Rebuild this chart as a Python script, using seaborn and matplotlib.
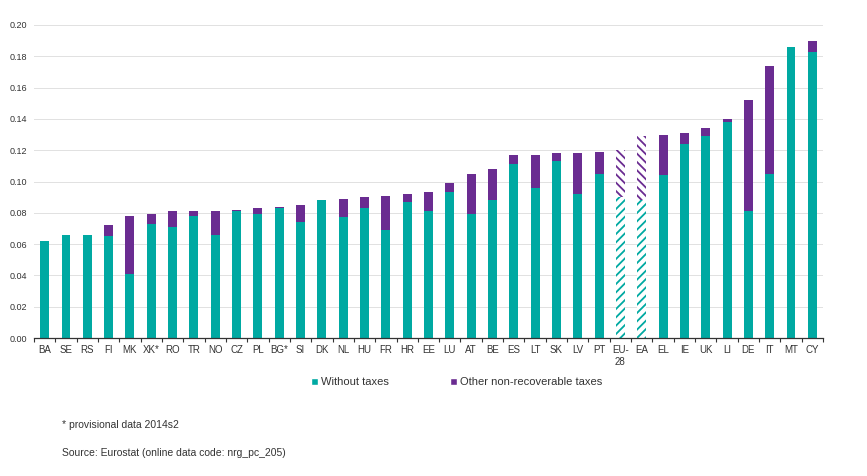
import pandas as pd
import matplotlib.pyplot as plt
import seaborn as sns
from matplotlib.patches import Patch
from matplotlib.ticker import FixedLocator

countries = ['BA', 'SE', 'RS', 'FI', 'MK', 'XK*', 'RO', 'TR', 'NO', 'CZ', 'PL', 'BG*', 'SI',
             'DK', 'NL', 'HU', 'FR', 'HR', 'EE', 'LU', 'AT', 'BE', 'ES', 'LT', 'SK', 'LV', 'PT',
             'EU-28', 'EA', 'EL', 'IE', 'UK', 'LI', 'DE', 'IT', 'MT', 'CY']
tick_labels = [c if c != 'EU-28' else 'EU-\n28' for c in countries]

# price without taxes and total incl. other non-recoverable taxes (EUR/kWh)
without_taxes = [0.062, 0.066, 0.066, 0.065, 0.041, 0.073, 0.071, 0.078, 0.066, 0.081, 0.079, 0.083, 0.074,
                 0.088, 0.077, 0.083, 0.069, 0.087, 0.081, 0.093, 0.079, 0.088, 0.111, 0.096, 0.113, 0.092, 0.105,
                 0.090, 0.088, 0.104, 0.124, 0.129, 0.138, 0.081, 0.105, 0.186, 0.183]
total = [0.062, 0.066, 0.066, 0.072, 0.078, 0.079, 0.081, 0.081, 0.081, 0.082, 0.083, 0.084, 0.085,
         0.088, 0.089, 0.090, 0.091, 0.092, 0.093, 0.099, 0.105, 0.108, 0.117, 0.117, 0.118, 0.118, 0.119,
         0.120, 0.129, 0.130, 0.131, 0.134, 0.140, 0.152, 0.174, 0.186, 0.190]
hatched = ['EU-28', 'EA']

teal = '#00a9a2'
purple = '#6a2c91'

df = pd.DataFrame({'country': countries, 'without': without_taxes, 'total': total})

sns.set_style('white')
plt.rcParams['font.family'] = ['Liberation Sans', 'DejaVu Sans']
plt.rcParams['hatch.linewidth'] = 1.3

fig = plt.figure(figsize=(8.67, 4.76), dpi=100)
ax = fig.add_axes([34 / 867, 1 - 338 / 476, 789 / 867, 313 / 476])

# total first (purple), then the part without taxes over it
sns.barplot(data=df, x='country', y='total', color=purple, saturation=1, width=0.42,
            errorbar=None, ax=ax, linewidth=0)
sns.barplot(data=df, x='country', y='without', color=teal, saturation=1, width=0.42,
            errorbar=None, ax=ax, linewidth=0)

n = len(countries)
bars = ax.patches
for i, c in enumerate(countries):
    if c in hatched:
        top = bars[i]
        low = bars[n + i]
        top.set_facecolor('white')
        top.set_edgecolor(purple)
        top.set_hatch('\\\\\\\\')
        low.set_facecolor('white')
        low.set_edgecolor(teal)
        low.set_hatch('////')

ax.set_xlim(-0.5, n - 0.5)
ax.set_ylim(0, 0.20)
ax.set_yticks([i * 0.02 for i in range(11)])
ax.set_yticklabels([f'{i * 0.02:.2f}' for i in range(11)], fontsize=6.5, color='#333333')
ax.set_xticks(range(n))
ax.set_xticklabels(tick_labels, fontsize=7, color='#333333', linespacing=1.25)
ax.xaxis.set_minor_locator(FixedLocator([i - 0.5 for i in range(n + 1)]))
ax.tick_params(axis='x', which='major', length=0, pad=5)
ax.tick_params(axis='x', which='minor', length=3, width=0.8, color='#333333', direction='out', bottom=True)
ax.tick_params(axis='y', length=0, pad=5)
ax.set_xlabel('')
ax.set_ylabel('')

ax.grid(axis='y', color='#b8b8b8', linestyle=(0, (1.2, 1.2)), linewidth=0.6)
ax.set_axisbelow(True)
for s in ['top', 'right', 'left']:
    ax.spines[s].set_visible(False)
ax.spines['bottom'].set_color('#333333')
ax.spines['bottom'].set_linewidth(0.9)

handles = [Patch(facecolor=teal, label='Without taxes'),
           Patch(facecolor=purple, label='Other non-recoverable taxes')]
fig.legend(handles=handles, loc='center', bbox_to_anchor=(0.527, 1 - 382 / 476), ncol=2,
           frameon=False, fontsize=8, handlelength=0.6, handleheight=0.6, handletextpad=0.3,
           columnspacing=5.5, labelcolor='#333333')

fig.text(62 / 867, 1 - 425 / 476, '* provisional data 2014s2', fontsize=7.5, color='#333333', va='center')
fig.text(62 / 867, 1 - 453 / 476, 'Source: Eurostat (online data code: nrg_pc_205)', fontsize=7.5,
         color='#333333', va='center')

fig.savefig('out.png', dpi=100)
